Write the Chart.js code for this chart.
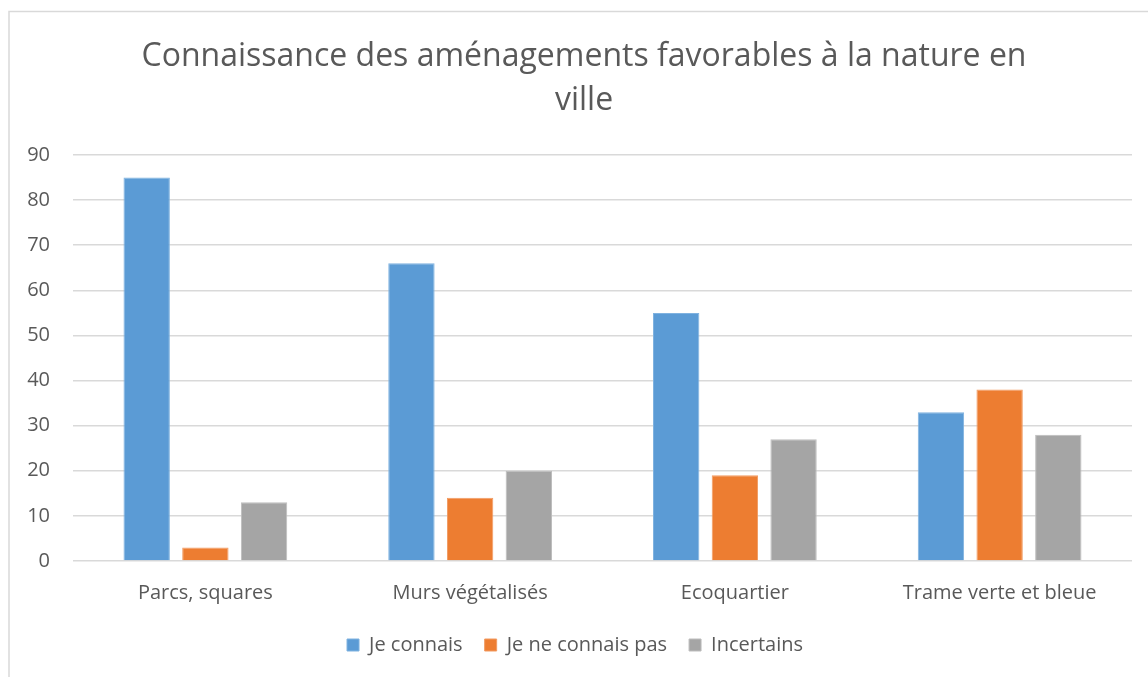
<!DOCTYPE html>
<html>
<head>
<meta charset="utf-8">
<script src="https://cdn.jsdelivr.net/npm/chart.js@4"></script>
<style>
  html, body { margin: 0; padding: 0; background: #ffffff; }
  #wrap { position: absolute; left: 0; top: 0; width: 1148px; height: 677px; }
</style>
</head>
<body>
<div id="wrap"><canvas id="c" width="1148" height="677"></canvas></div>
<script>
const categories = ["Parcs, squares", "Murs végétalisés", "Ecoquartier", "Trame verte et bleue"];
const jeConnais = [85, 66, 55, 33];
const jeNeConnaisPas = [3, 14, 19, 38];
const incertains = [13, 20, 27, 28];
const seriesNames = ["Je connais", "Je ne connais pas", "Incertains"];
const titleLines = ["Connaissance des aménagements favorables à la nature en", "ville"];

const TEXT = "#595959";
const GRID = "#d9d9d9";
const FONT = "'Open Sans', 'DejaVu Sans', sans-serif";

const framePlugin = {
  id: 'frame',
  afterLayout(chart) {
    // centre title and legend over the whole chart frame, as in the original
    if (chart.titleBlock) { chart.titleBlock.left += 18; chart.titleBlock.right += 18; }
    if (chart.legend) { chart.legend.left += 9; chart.legend.right += 9; }
  },
  beforeDraw(chart) {
    const ctx = chart.ctx;
    ctx.save();
    ctx.fillStyle = '#ffffff';
    ctx.fillRect(0, 0, chart.width, chart.height);
    ctx.strokeStyle = GRID;
    ctx.lineWidth = 1.5;
    ctx.beginPath();
    ctx.moveTo(9, chart.height);
    ctx.lineTo(9, 11.5);
    ctx.lineTo(chart.width, 11.5);
    ctx.stroke();
    ctx.restore();
  }
};

new Chart(document.getElementById('c'), {
  type: 'bar',
  data: {
    labels: categories,
    datasets: [
      { label: seriesNames[0], data: jeConnais, backgroundColor: '#5b9bd5', borderColor: '#7fb2e0', borderWidth: 1 },
      { label: seriesNames[1], data: jeNeConnaisPas, backgroundColor: '#ed7d31', borderColor: '#f29b62', borderWidth: 1 },
      { label: seriesNames[2], data: incertains, backgroundColor: '#a5a5a5', borderColor: '#bdbdbd', borderWidth: 1 }
    ]
  },
  plugins: [framePlugin],
  options: {
    responsive: false,
    animation: false,
    devicePixelRatio: 1,
    layout: { padding: { left: 0, right: 16, top: 34, bottom: 12 } },
    datasets: { bar: { categoryPercentage: 0.665, barPercentage: 0.79 } },
    plugins: {
      title: {
        display: true,
        text: titleLines,
        color: TEXT,
        font: { family: FONT, size: 32, weight: 'normal', lineHeight: 1.4 },
        padding: { top: 0, bottom: 31.4 }
      },
      legend: {
        display: true,
        position: 'bottom',
        labels: {
          color: TEXT,
          font: { family: FONT, size: 20 },
          boxWidth: 12,
          boxHeight: 12,
          padding: 22
        }
      },
      tooltip: { enabled: false }
    },
    scales: {
      x: {
        grid: { display: false, drawTicks: false },
        border: { display: false },
        ticks: { color: TEXT, font: { family: FONT, size: 20 }, padding: 20, maxRotation: 0 },
        afterFit(scale) { scale.height = 52; }
      },
      y: {
        min: 0,
        max: 90,
        ticks: { stepSize: 10, color: TEXT, font: { family: FONT, size: 20 }, padding: 23 },
        grid: { color: GRID, lineWidth: 1.5, drawTicks: false },
        border: { display: false },
        afterFit(scale) { scale.width = 73; }
      }
    }
  }
});
</script>
</body>
</html>
